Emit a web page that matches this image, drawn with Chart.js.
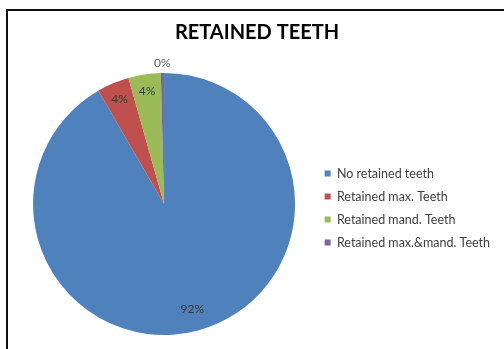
<!DOCTYPE html>
<html>
<head>
<meta charset="utf-8">
<script src="https://cdn.jsdelivr.net/npm/chart.js@4"></script>
<style>
  body { margin: 0; background: #fff; }
  #marco {
    position: absolute; left: 6px; top: 9px; width: 520px; height: 360px;
    border-top: 2px solid #111; border-left: 2px solid #111;
  }
  #caja { position: absolute; left: 0; top: 0; width: 504px; height: 349px; }
</style>
</head>
<body>
<div id="marco"></div>
<div id="caja"><canvas id="grafico"></canvas></div>
<script>
let categorias = ['No retained teeth', 'Retained max. Teeth', 'Retained mand. Teeth', 'Retained max.&mand. Teeth'];
let valores = [92, 4, 4, 0.4];
let colores = ['#4F81BD', '#C0504D', '#9BBB59', '#8064A2'];

/* ------------------------- Etiquetas de porcentaje ------------------------ */
let etiquetas = {
    id: 'etiquetas',
    afterDatasetsDraw(chart) {
        let ctx = chart.ctx;
        let datos = chart.data.datasets[0].data;
        let total = datos.reduce((a, b) => a + b, 0);
        chart.getDatasetMeta(0).data.forEach((arco, i) => {
            let pct = Math.round(datos[i] / total * 100);
            let medio = (arco.startAngle + arco.endAngle) / 2;
            let r;
            if (pct == 0) r = arco.outerRadius + 10;
            else if (datos[i] / total > 0.5) r = arco.outerRadius * 0.83;
            else r = arco.outerRadius * 0.87;
            ctx.save();
            ctx.font = '12px Lato';
            ctx.fillStyle = pct == 0 ? '#595959' : '#3a3a3a';
            ctx.textAlign = 'center';
            ctx.textBaseline = 'middle';
            ctx.fillText(pct + '%', arco.x + Math.cos(medio) * r, arco.y + Math.sin(medio) * r);
            ctx.restore();
        });
    }
};

let canvasGrafico = document.getElementById('grafico');
let chartGrafico = new Chart(canvasGrafico, {
    type: 'pie',
    data: {
        labels: categorias,
        datasets: [{
            data: valores,
            backgroundColor: colores,
            borderWidth: 0
        }]
    },
    options: {
        responsive: true,
        maintainAspectRatio: false,
        animation: false,
        layout: { padding: { left: 14, top: 12, right: 4, bottom: 14 } },
        plugins: {
            title: {
                display: true,
                text: 'RETAINED TEETH',
                color: '#000',
                font: { family: 'Lato', size: 20, weight: 'bold' },
                padding: { top: 9, bottom: 28 }
            },
            legend: {
                position: 'right',
                fullSize: false,
                // titulo vacio para bajar un poco los items
                title: { display: true, text: '', font: { size: 1 }, padding: 3.5 },
                labels: {
                    boxWidth: 6,
                    boxHeight: 6,
                    padding: 10.5,
                    color: '#3f3f3f',
                    font: { family: 'Lato', size: 12.5 }
                }
            },
            tooltip: { enabled: false }
        }
    },
    plugins: [etiquetas]
});
</script>
</body>
</html>
